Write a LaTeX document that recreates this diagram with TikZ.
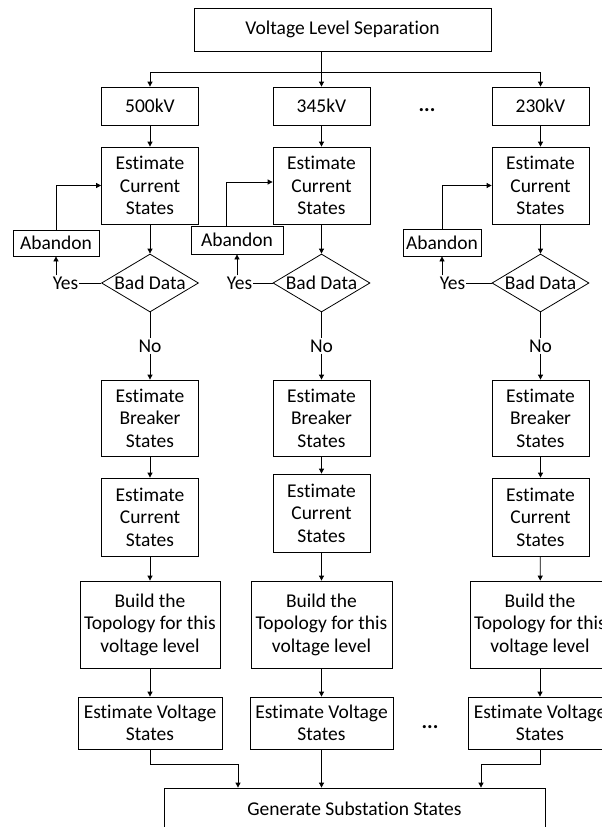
\documentclass[tikz,border=0pt]{standalone}
\usepackage{fontspec}
\setmainfont{Carlito}[Ligatures=NoCommon]
\usetikzlibrary{shapes.geometric,arrows.meta}

\begin{document}
\begin{tikzpicture}[x=1pt,y=-1pt,font=\fontsize{19.5}{22.5}\selectfont,
    box/.style={draw,align=center,inner sep=2pt,line width=0.8pt},
    decision/.style={draw,diamond,aspect=1.67,inner sep=0pt,minimum width=97pt,minimum height=58pt,line width=0.8pt},
    arr/.style={-{Triangle[length=5pt,width=5pt]},line width=0.8pt},
    ln/.style={line width=0.8pt}]
    \clip (0,0) rectangle (602,827);

    \node[box,minimum width=297pt,minimum height=43pt] (sep) at (342.5,29.5) {Voltage Level Separation};
    \coordinate (split) at (321.5,72);

    % 500kV
    \node[box,minimum width=97pt,minimum height=38pt] (v500) at (150,106) {500kV};
    \node[box,minimum width=97pt,minimum height=77pt] (ecs500) at (150,185.5) {Estimate\\Current\\States};
    \node[box,minimum width=86pt,minimum height=26pt] (ab500) at (56,243) {Abandon};
    \node[decision] (bd500) at (150,283) {Bad Data};
    \node[inner sep=1pt] (yes500) at (65.5,283) {Yes};
    \node[inner sep=1pt] (no500) at (150,346) {No};
    \node[box,minimum width=97pt,minimum height=76pt] (ebs500) at (150,418) {Estimate\\Breaker\\States};
    \node[box,minimum width=97pt,minimum height=78pt] (ecsb500) at (150,517) {Estimate\\Current\\States};
    \node[box,minimum width=140pt,minimum height=87pt] (bt500) at (150,624.5) {Build the\\Topology for this\\voltage level};
    \node[box,minimum width=144pt,minimum height=52pt] (evs500) at (150,723) {Estimate Voltage\\States};

    % 345kV
    \node[box,minimum width=97pt,minimum height=38pt] (v345) at (321.5,106) {345kV};
    \node[box,minimum width=97pt,minimum height=77pt] (ecs345) at (321.5,185.5) {Estimate\\Current\\States};
    \node[box,minimum width=92pt,minimum height=28pt] (ab345) at (237,240) {Abandon};
    \node[decision] (bd345) at (321.5,283) {Bad Data};
    \node[inner sep=1pt] (yes345) at (239.5,283) {Yes};
    \node[inner sep=1pt] (no345) at (321.5,346) {No};
    \node[box,minimum width=97pt,minimum height=76pt] (ebs345) at (321.5,418) {Estimate\\Breaker\\States};
    \node[box,minimum width=97pt,minimum height=78pt] (ecsb345) at (321.5,513) {Estimate\\Current\\States};
    \node[box,minimum width=141pt,minimum height=87pt] (bt345) at (321.5,624.5) {Build the\\Topology for this\\voltage level};
    \node[box,minimum width=143pt,minimum height=52pt] (evs345) at (321.5,723) {Estimate Voltage\\States};

    % 230kV
    \node[box,minimum width=97pt,minimum height=38pt] (v230) at (540.5,106) {230kV};
    \node[box,minimum width=97pt,minimum height=77pt] (ecs230) at (540.5,185.5) {Estimate\\Current\\States};
    \node[box,minimum width=78pt,minimum height=27pt] (ab230) at (442,242.5) {Abandon};
    \node[decision] (bd230) at (540.5,283) {Bad Data};
    \node[inner sep=1pt] (yes230) at (452.5,283) {Yes};
    \node[inner sep=1pt] (no230) at (540.5,346) {No};
    \node[box,minimum width=97pt,minimum height=76pt] (ebs230) at (540.5,418) {Estimate\\Breaker\\States};
    \node[box,minimum width=97pt,minimum height=78pt] (ecsb230) at (540.5,517) {Estimate\\Current\\States};
    \node[box,minimum width=140pt,minimum height=87pt] (bt230) at (540,624.5) {Build the\\Topology for this\\voltage level};
    \node[box,minimum width=144pt,minimum height=52pt] (evs230) at (540,723) {Estimate Voltage\\States};

    \node[font=\fontsize{21}{22.5}\selectfont\bfseries] (dots1) at (427,110) {...};
    \node[font=\fontsize{21}{22.5}\selectfont\bfseries] (dots2) at (430,727) {...};
    \node[box,minimum width=381pt,minimum height=42pt] (gen) at (354.5,809) {Generate Substation States};

    \draw[line width=1.2pt] (sep.south -| split) -- (split);
    \draw[arr] (split) -| (v500.north);
    \draw[arr] (split) -- (v345.north);
    \draw[arr] (split) -| (v230.north);

    \draw[arr] (v500) -- (ecs500);
    \draw[arr] (ecs500) -- (bd500);
    \draw[ln] (yes500) -- (bd500);
    \draw[arr] (ab500.south |- yes500.north) -- (ab500.south);
    \draw[arr] (ab500.north) |- (ecs500.west);
    \draw[ln] (bd500) -- (no500);
    \draw[arr] (no500) -- (ebs500);
    \draw[arr] (ebs500) -- (ecsb500);
    \draw[arr] (ecsb500) -- (bt500);
    \draw[arr] (bt500) -- (evs500);
    \draw[arr] (evs500.south) -- ++(0,15) -| ([xshift=-116.5pt]gen.north);

    \draw[arr] (v345) -- (ecs345);
    \draw[arr] (ecs345) -- (bd345);
    \draw[ln] (yes345) -- (bd345);
    \draw[arr] (ab345.south |- yes345.north) -- (ab345.south);
    \draw[arr] ([xshift=-11pt]ab345.north) |- ([yshift=3.5pt]ecs345.west);
    \draw[ln] (bd345) -- (no345);
    \draw[arr] (no345) -- (ebs345);
    \draw[arr] (ebs345) -- (ecsb345);
    \draw[arr] (ecsb345) -- (bt345);
    \draw[arr] (bt345) -- (evs345);
    \draw[arr] (evs345.south) -- (gen.north -| evs345.south);

    \draw[arr] (v230) -- (ecs230);
    \draw[arr] (ecs230) -- (bd230);
    \draw[ln] (yes230) -- (bd230);
    \draw[arr] (ab230.south |- yes230.north) -- (ab230.south);
    \draw[arr] (ab230.north) |- (ecs230.west);
    \draw[ln] (bd230) -- (no230);
    \draw[arr] (no230) -- (ebs230);
    \draw[arr] (ebs230) -- (ecsb230);
    \draw[arr] (ecsb230) -- (bt230);
    \draw[arr] (bt230) -- (evs230);
    \draw[arr] (evs230.south) -- ++(0,15) -| ([xshift=126.5pt]gen.north);
\end{tikzpicture}
\end{document}
